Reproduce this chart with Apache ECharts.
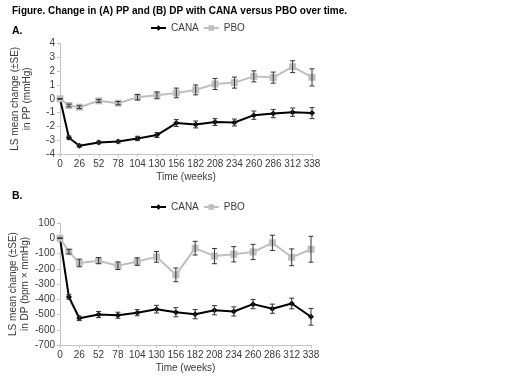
<!DOCTYPE html>
<html>
<head>
    <meta charset="utf-8">
    <title>Change in PP and DP with CANA versus PBO over time</title>
    <script src="https://cdn.jsdelivr.net/npm/echarts@6/dist/echarts.min.js"></script>
</head>
<body style="margin:0;background:#fff">
    <div id="main" style="width:520px;height:390px;"></div>
    <script type="text/javascript">
        var weeks = [0, 12, 26, 52, 78, 104, 130, 156, 182, 208, 234, 260, 286, 312, 338];

        // (A) PP, mmHg
        var ppCana   = [0, -2.82, -3.4, -3.16, -3.1, -2.87, -2.63, -1.76, -1.86, -1.69, -1.72, -1.19, -1.07, -0.97, -1.04];
        var ppCanaSe = [0, 0.12, 0.1, 0.1, 0.1, 0.15, 0.18, 0.25, 0.25, 0.25, 0.25, 0.3, 0.3, 0.3, 0.4];
        var ppPbo    = [0, -0.49, -0.61, -0.15, -0.32, 0.11, 0.25, 0.42, 0.64, 1.07, 1.17, 1.62, 1.53, 2.32, 1.55];
        var ppPboSe  = [0, 0.1, 0.1, 0.1, 0.12, 0.2, 0.25, 0.35, 0.36, 0.4, 0.4, 0.4, 0.4, 0.43, 0.62];

        // (B) DP, bpm x mmHg
        var dpCana   = [0, -385, -525, -500, -505, -488, -465, -485, -498, -472, -480, -432, -462, -428, -515];
        var dpCanaSe = [0, 15, 15, 20, 20, 20, 25, 30, 30, 30, 30, 30, 30, 35, 55];
        var dpPbo    = [0, -88, -162, -147, -180, -153, -122, -240, -65, -117, -105, -90, -30, -125, -72];
        var dpPboSe  = [0, 15, 25, 20, 25, 25, 35, 45, 45, 50, 50, 50, 50, 55, 85];

        var cText = '#3a3a3a';
        var cAxis = '#c4c4c4';
        var cCana = '#000000';
        var cPbo = '#bfbfbf';
        var font = 'Liberation Sans, Arial, sans-serif';

        function pairs(ys) {
            return weeks.map(function (w, i) { return [w, ys[i]]; });
        }
        function errData(ys, se) {
            return weeks.map(function (w, i) { return [w, ys[i] - se[i], ys[i] + se[i]]; });
        }

        function renderErr(params, api) {
            var x = api.value(0);
            var lo = api.coord([x, api.value(1)]);
            var hi = api.coord([x, api.value(2)]);
            var w = 2.5;
            var st = { stroke: '#333', lineWidth: 1 };
            return {
                type: 'group',
                children: [
                    { type: 'line', shape: { x1: lo[0], y1: lo[1], x2: hi[0], y2: hi[1] }, style: st },
                    { type: 'line', shape: { x1: lo[0] - w, y1: lo[1], x2: lo[0] + w, y2: lo[1] }, style: st },
                    { type: 'line', shape: { x1: hi[0] - w, y1: hi[1], x2: hi[0] + w, y2: hi[1] }, style: st }
                ]
            };
        }

        function xAx(idx) {
            return {
                type: 'value', gridIndex: idx, min: 0, max: 338, interval: 26,
                name: 'Time (weeks)', nameLocation: 'middle', nameGap: 18,
                nameTextStyle: { color: cText, fontSize: 10, fontFamily: font },
                axisLine: { show: true, onZero: false, lineStyle: { color: cAxis } },
                axisTick: { show: true, length: 3, lineStyle: { color: cAxis } },
                axisLabel: { color: cText, fontSize: 10, fontFamily: font, margin: 5 },
                splitLine: { show: false }
            };
        }
        function yAx(idx, min, max, interval, name) {
            return {
                type: 'value', gridIndex: idx, min: min, max: max, interval: interval,
                name: name, nameLocation: 'middle', nameGap: 27,
                nameTextStyle: { color: cText, fontSize: 10, fontFamily: font, lineHeight: 12 },
                axisLine: { show: true, lineStyle: { color: cAxis } },
                axisTick: { show: true, length: 3, lineStyle: { color: cAxis } },
                axisLabel: { color: cText, fontSize: 10, fontFamily: font, margin: 5 },
                splitLine: { show: false }
            };
        }
        function lineS(name, idx, ys, color, symbol, size) {
            return {
                name: name, type: 'line', xAxisIndex: idx, yAxisIndex: idx,
                data: pairs(ys), symbol: symbol, symbolSize: size,
                lineStyle: { color: color, width: 2 }, itemStyle: { color: color },
                animation: false, z: 3
            };
        }
        function errS(idx, ys, se) {
            return {
                type: 'custom', xAxisIndex: idx, yAxisIndex: idx,
                renderItem: renderErr, data: errData(ys, se),
                encode: { x: 0, y: [1, 2] }, animation: false, z: 4, silent: true
            };
        }
        function legend(top) {
            return {
                data: ['CANA', 'PBO'], top: top, left: 145, itemGap: 4,
                itemWidth: 15, itemHeight: 7,
                textStyle: { color: cText, fontSize: 10, fontFamily: font }
            };
        }

        var myChart = echarts.init(document.getElementById('main'));
        var option = {
            backgroundColor: '#fff',
            animation: false,
            title: [{
                text: 'Figure. Change in (A) PP and (B) DP with CANA versus PBO over time.',
                left: 7, top: 1,
                textStyle: { color: '#000', fontSize: 10, fontWeight: 'bold', fontFamily: font }
            }, {
                text: 'A.', left: 7, top: 21,
                textStyle: { color: '#000', fontSize: 10.5, fontWeight: 'bold', fontFamily: font }
            }, {
                text: 'B.', left: 7, top: 186,
                textStyle: { color: '#000', fontSize: 10.5, fontWeight: 'bold', fontFamily: font }
            }],
            legend: [legend(18), legend(197)],
            grid: [
                { left: 60, width: 252, top: 43.5, height: 110.5 },
                { left: 60, width: 251, top: 223, height: 122 }
            ],
            xAxis: [xAx(0), xAx(1)],
            yAxis: [
                yAx(0, -4, 4, 1, 'LS mean change (±SE)\nin PP (mmHg)'),
                yAx(1, -700, 100, 100, 'LS mean change (±SE)\nin DP (bpm × mmHg)')
            ],
            series: [
                lineS('CANA', 0, ppCana, cCana, 'diamond', 6),
                lineS('PBO', 0, ppPbo, cPbo, 'rect', 7),
                errS(0, ppCana, ppCanaSe),
                errS(0, ppPbo, ppPboSe),
                lineS('CANA', 1, dpCana, cCana, 'diamond', 6),
                lineS('PBO', 1, dpPbo, cPbo, 'rect', 7),
                errS(1, dpCana, dpCanaSe),
                errS(1, dpPbo, dpPboSe)
            ]
        };
        myChart.setOption(option);
    </script>
</body>
</html>
